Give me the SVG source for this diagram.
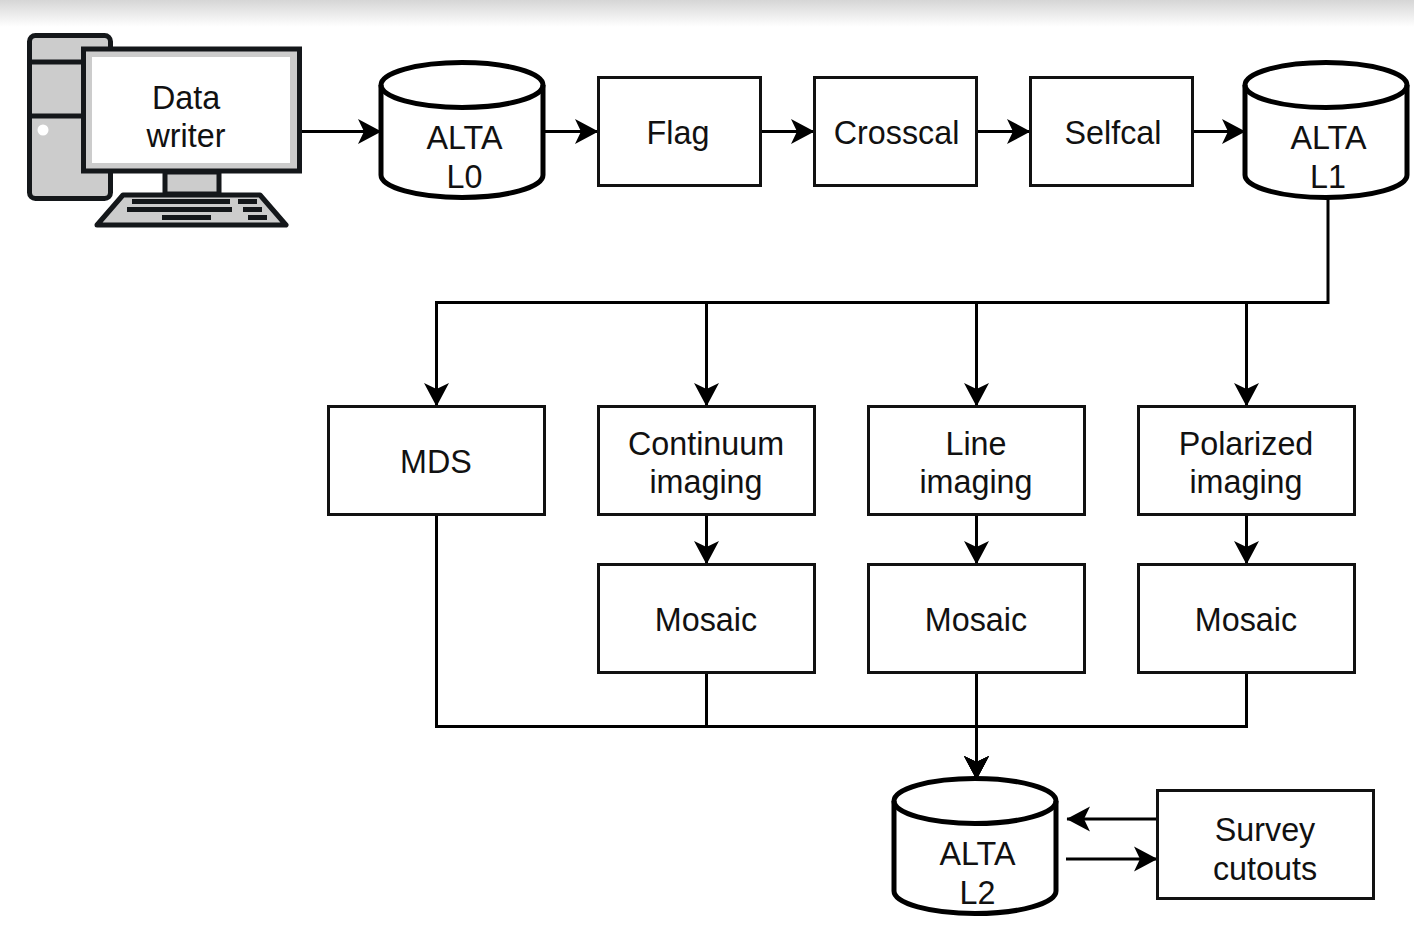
<svg xmlns="http://www.w3.org/2000/svg" width="1414" height="940" viewBox="0 0 1414 940">
<style>
.box{fill:#fff;stroke:#111;stroke-width:3}
.cyl{fill:#fff;stroke:#000;stroke-width:5}
.t{font-family:"Liberation Sans",Arial,sans-serif;font-size:32.3px;fill:#111;text-anchor:middle}
.c{fill:none;stroke:#000;stroke-width:3}
.d{fill:#ccc;stroke:#14171a;stroke-width:5;stroke-linejoin:round}
.k{fill:#14171a}
</style>
<defs>
<linearGradient id="top" x1="0" y1="0" x2="0" y2="1"><stop offset="0" stop-color="#d6d6d6"/><stop offset="1" stop-color="#fff"/></linearGradient>
<marker id="a" markerUnits="userSpaceOnUse" markerWidth="26" markerHeight="28" refX="24" refY="13" orient="auto" viewBox="0 0 26 26"><path d="M1 0.500L24.500 13L1 25.500L7 13Z" fill="#000"/></marker>
</defs>
<rect width="1414" height="940" fill="#fff"/>
<rect width="1414" height="27" fill="url(#top)"/>
<g id="connectors">
<path class="c" d="M302 131.500H381" marker-end="url(#a)"/>
<path class="c" d="M545 131.500H598" marker-end="url(#a)"/>
<path class="c" d="M760 131.500H814" marker-end="url(#a)"/>
<path class="c" d="M976 131.500H1030" marker-end="url(#a)"/>
<path class="c" d="M1192 131.500H1245" marker-end="url(#a)"/>
<path class="c" d="M1328 198V302.500H436.500V406" marker-end="url(#a)"/>
<path class="c" d="M706.500 302V406" marker-end="url(#a)"/>
<path class="c" d="M976.500 302V406" marker-end="url(#a)"/>
<path class="c" d="M1246.500 302V406" marker-end="url(#a)"/>
<path class="c" d="M706.500 514V564" marker-end="url(#a)"/>
<path class="c" d="M976.500 514V564" marker-end="url(#a)"/>
<path class="c" d="M1246.500 514V564" marker-end="url(#a)"/>
<path class="c" d="M436.500 514V726.500H976.500V779" marker-end="url(#a)"/>
<path class="c" d="M706.500 672V726.500H976.500V779" marker-end="url(#a)"/>
<path class="c" d="M976.500 672V779" marker-end="url(#a)"/>
<path class="c" d="M1246.500 672V726.500H976.500V779" marker-end="url(#a)"/>
<path class="c" d="M1157 819H1067" marker-end="url(#a)"/>
<path class="c" d="M1066 859H1157" marker-end="url(#a)"/>
</g>
<g id="data-writer">
<rect class="d" x="29.500" y="35.500" width="81" height="163" rx="6"/>
<path d="M29 62H85M29 116H85" stroke="#14171a" stroke-width="5" fill="none"/>
<circle cx="43" cy="130" r="5.500" fill="#fff"/>
<path d="M165 172H219V194H165Z" class="d"/>
<path class="d" d="M123 195H260L286 225H97Z"/>
<rect x="132" y="199" width="98" height="5" class="k"/><rect x="238" y="199" width="19" height="5" class="k"/>
<rect x="127" y="207" width="105" height="5" class="k"/><rect x="243" y="207" width="19" height="5" class="k"/>
<rect x="162" y="215" width="49" height="5" class="k"/><rect x="248" y="215" width="19" height="5" class="k"/>
<rect x="83.500" y="49" width="216" height="122" fill="#ccc" stroke="#14171a" stroke-width="5"/>
<rect x="92" y="57" width="198" height="106" fill="#fff"/>
<text class="t" x="186" y="108.500">Data</text><text class="t" x="186" y="146.500">writer</text>
</g>
<g id="alta-l0">
<path class="cyl" d="M381 85A81 22.500 0 0 1 543 85V175A81 22.500 0 0 1 381 175Z"/>
<path class="cyl" style="fill:none" d="M381 85A81 22.500 0 0 0 543 85"/>
<text class="t" x="464.500" y="148.500">ALTA</text><text class="t" x="464.500" y="187.500">L0</text>
</g>
<g id="flag"><rect class="box" x="598.500" y="77.500" width="162" height="108"/><text class="t" x="678" y="143.500">Flag</text></g>
<g id="crosscal"><rect class="box" x="814.500" y="77.500" width="162" height="108"/><text class="t" x="896.500" y="143.500">Crosscal</text></g>
<g id="selfcal"><rect class="box" x="1030.500" y="77.500" width="162" height="108"/><text class="t" x="1113" y="143.500">Selfcal</text></g>
<g id="alta-l1">
<path class="cyl" d="M1245 85A81 22.500 0 0 1 1407 85V175A81 22.500 0 0 1 1245 175Z"/>
<path class="cyl" style="fill:none" d="M1245 85A81 22.500 0 0 0 1407 85"/>
<text class="t" x="1328.500" y="148.500">ALTA</text><text class="t" x="1328" y="187.500">L1</text>
</g>
<g id="mds"><rect class="box" x="328.500" y="406.500" width="216" height="108"/><text class="t" x="436" y="472.500">MDS</text></g>
<g id="continuum"><rect class="box" x="598.500" y="406.500" width="216" height="108"/><text class="t" x="706" y="454.500">Continuum</text><text class="t" x="706" y="492.500">imaging</text></g>
<g id="line"><rect class="box" x="868.500" y="406.500" width="216" height="108"/><text class="t" x="976" y="454.500">Line</text><text class="t" x="976" y="492.500">imaging</text></g>
<g id="polarized"><rect class="box" x="1138.500" y="406.500" width="216" height="108"/><text class="t" x="1246" y="454.500">Polarized</text><text class="t" x="1246" y="492.500">imaging</text></g>
<g id="mosaic-1"><rect class="box" x="598.500" y="564.500" width="216" height="108"/><text class="t" x="706" y="630.500">Mosaic</text></g>
<g id="mosaic-2"><rect class="box" x="868.500" y="564.500" width="216" height="108"/><text class="t" x="976" y="630.500">Mosaic</text></g>
<g id="mosaic-3"><rect class="box" x="1138.500" y="564.500" width="216" height="108"/><text class="t" x="1246" y="630.500">Mosaic</text></g>
<g id="alta-l2">
<path class="cyl" d="M894 801A81 22.500 0 0 1 1056 801V891A81 22.500 0 0 1 894 891Z"/>
<path class="cyl" style="fill:none" d="M894 801A81 22.500 0 0 0 1056 801"/>
<text class="t" x="977.500" y="864.500">ALTA</text><text class="t" x="977.500" y="903.500">L2</text>
</g>
<g id="survey"><rect class="box" x="1157.500" y="790.500" width="216" height="108"/><text class="t" x="1265" y="840.500">Survey</text><text class="t" x="1265" y="879.500">cutouts</text></g>
</svg>
